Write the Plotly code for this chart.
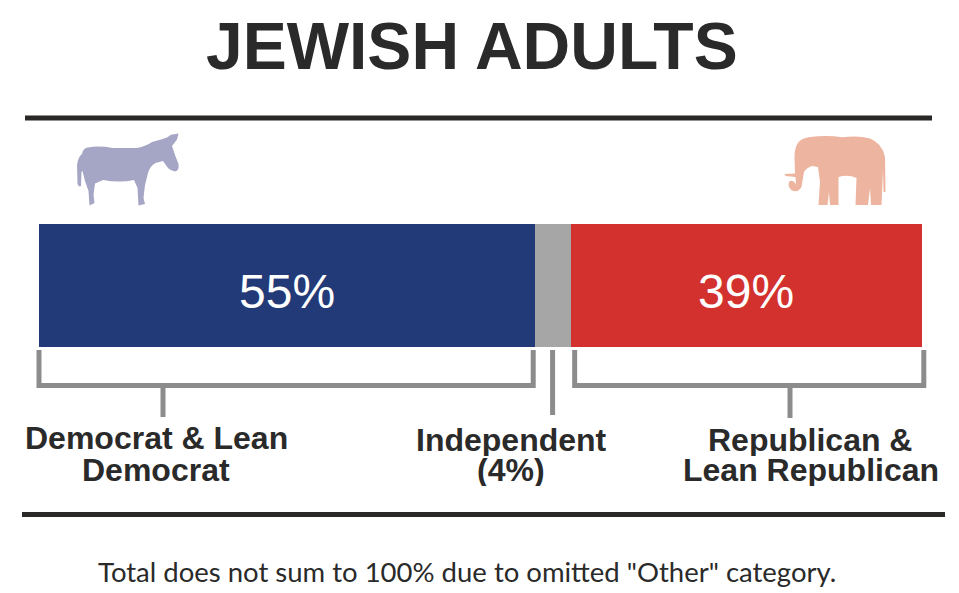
import plotly.graph_objects as go

# Values
categories = ['Democrat & Lean Democrat', 'Independent', 'Republican & Lean Republican']
shares = [55, 4, 39]
bar_text = ['55%', '', '39%']
colors = ['#223a78', '#a6a6a6', '#d3312d']

W, H = 959, 593
# percent axis placed so that 0 sits at x=39px and 98 at x=922px
k = (922 - 39) / 98.0
x_range = [-39 / k, (W - 39) / k]

BAR_Y = 285.5
BAR_H = 123

fig = go.Figure()
for name, val, col in zip(categories, shares, colors):
    fig.add_trace(go.Bar(
        x=[val], y=[BAR_Y], width=BAR_H, orientation='h', name=name,
        marker=dict(color=col, line=dict(width=0)), hoverinfo='skip'))

shapes = []
rule_col = '#2a2826'
br_col = '#8c8c8c'


def line(x0, y0, x1, y1, xref='x2', color=br_col, width=5):
    shapes.append(dict(type='line', xref=xref, yref='y', x0=x0, y0=y0, x1=x1, y1=y1,
                       line=dict(color=color, width=width), layer='above'))


# horizontal rules
line(25, 118, 932, 118, color=rule_col, width=5)
line(22, 514.5, 945, 514.5, color=rule_col, width=5)

# brackets, ends follow the bar segments
dem_end = shares[0]
ind_mid = shares[0] + shares[1] / 2
rep_start = shares[0] + shares[1]
rep_end = rep_start + shares[2]

line(0.0, 350, 0.0, 388, xref='x')
line(dem_end - 0.15, 350, dem_end - 0.15, 388, xref='x')
line(0.0, 385.5, dem_end - 0.15, 385.5, xref='x')
line(163, 385.5, 163, 417)

line(ind_mid, 350, ind_mid, 415, xref='x')

line(rep_start + 0.45, 350, rep_start + 0.45, 388, xref='x')
line(rep_end + 0.2, 350, rep_end + 0.2, 388, xref='x')
line(rep_start + 0.45, 385.5, rep_end + 0.2, 385.5, xref='x')
line(790, 385.5, 790, 418)

# donkey
donkey = ('M 82 154 Q 83 148 88 147.5 Q 98 145.5 113 148 L 137 148 '
          'Q 146 146 152 142 L 161 139.5 L 167 137.5 L 171 134.8 L 178.5 133.5 '
          'L 177 139.5 L 172 146 L 175 155 L 178.5 164 Q 179.5 171 175 171.5 '
          'Q 171 171 168 168 L 163 161 L 155.5 163 Q 150 166 148 173 L 145 185 '
          'L 143.5 198 L 145 204 L 138.5 205.5 L 137.5 188 L 134 180 '
          'Q 120 183 103 180 L 95 183.5 L 93.5 195 L 94.5 203 L 89.5 205.5 '
          'L 88.5 191 L 85 181 L 82.5 171 L 81.5 172 L 81 186 L 79 186.5 '
          'L 77.5 184 L 77 165 Q 78 157 82 154 Z')
shapes.append(dict(type='path', xref='x2', yref='y', path=donkey,
                   fillcolor='#a5a5c5', line=dict(width=0), layer='above'))

# elephant
elephant = ('M 796.7 145 Q 800 138 810 137 Q 828 135 842 137.3 Q 858 135 870 138.5 '
            'Q 882 143 885 157 L 885.5 192 L 883.5 192 L 883 170 L 881.5 205 '
            'L 871 205 L 870 188 L 868 205 L 855.5 205 L 856.5 178 '
            'Q 848 174 838.5 177 L 838.5 205 L 830 205 L 829 192 L 827.5 205 '
            'L 818.5 205 L 820 182 L 818 167 L 812 166 Q 806 168 804 172 '
            'L 802.5 181 L 801.5 187 Q 798 193 792 190.5 Q 787.5 187.5 789 182 '
            'Q 792 179 795 183 L 796 184 L 795.5 177 L 786 176 L 784 174 '
            'L 795 173.5 L 794.5 158 Q 794.5 150 796.7 145 Z')
shapes.append(dict(type='path', xref='x2', yref='y', path=elephant,
                   fillcolor='#edb4a0', line=dict(width=0), layer='above'))

annotations = []


def label(txt, x, y, size=32, family='Liberation Sans', bold=True, color='#2a2a2a',
          xref='x2', height=None):
    annotations.append(dict(
        text=txt, x=x, y=y, xref=xref, yref='y', showarrow=False,
        xanchor='center', yanchor='middle', height=height,
        font=dict(family=family, size=size, color=color,
                  weight='bold' if bold else 'normal')))


# percentages inside the bar, centred on each segment
start = 0
for val, txt in zip(shares, bar_text):
    if txt:
        label(txt, start + val / 2, 291, size=48, bold=False, color='white', xref='x')
    start += val

label('JEWISH ADULTS', 471.5, 46, size=66)
label('Democrat & Lean', 156, 438, height=32)
label('Democrat', 156, 470, height=32)
label('Independent', 511, 440, height=32)
label('(4%)', 511, 470, height=32)
label('Republican &', 810, 440, height=32)
label('Lean Republican', 811, 470, height=32)
label('Total does not sum to 100% due to omitted "Other" category.', 467, 571,
      size=27.5, family='Lato', bold=False)

fig.update_layout(
    width=W, height=H, margin=dict(l=0, r=0, t=0, b=0),
    paper_bgcolor='white', plot_bgcolor='white',
    barmode='stack', showlegend=False, bargap=0,
    xaxis=dict(range=x_range, visible=False, fixedrange=True),
    xaxis2=dict(range=[0, W], visible=False, overlaying='x', anchor='y', fixedrange=True),
    yaxis=dict(range=[H, 0], visible=False, fixedrange=True),
    shapes=shapes, annotations=annotations,
)

# drop the default 8px page margin so the figure sits at the window corner
fig.write_html('out.html', config={'displayModeBar': False},
               post_script="document.body.style.margin='0';")
